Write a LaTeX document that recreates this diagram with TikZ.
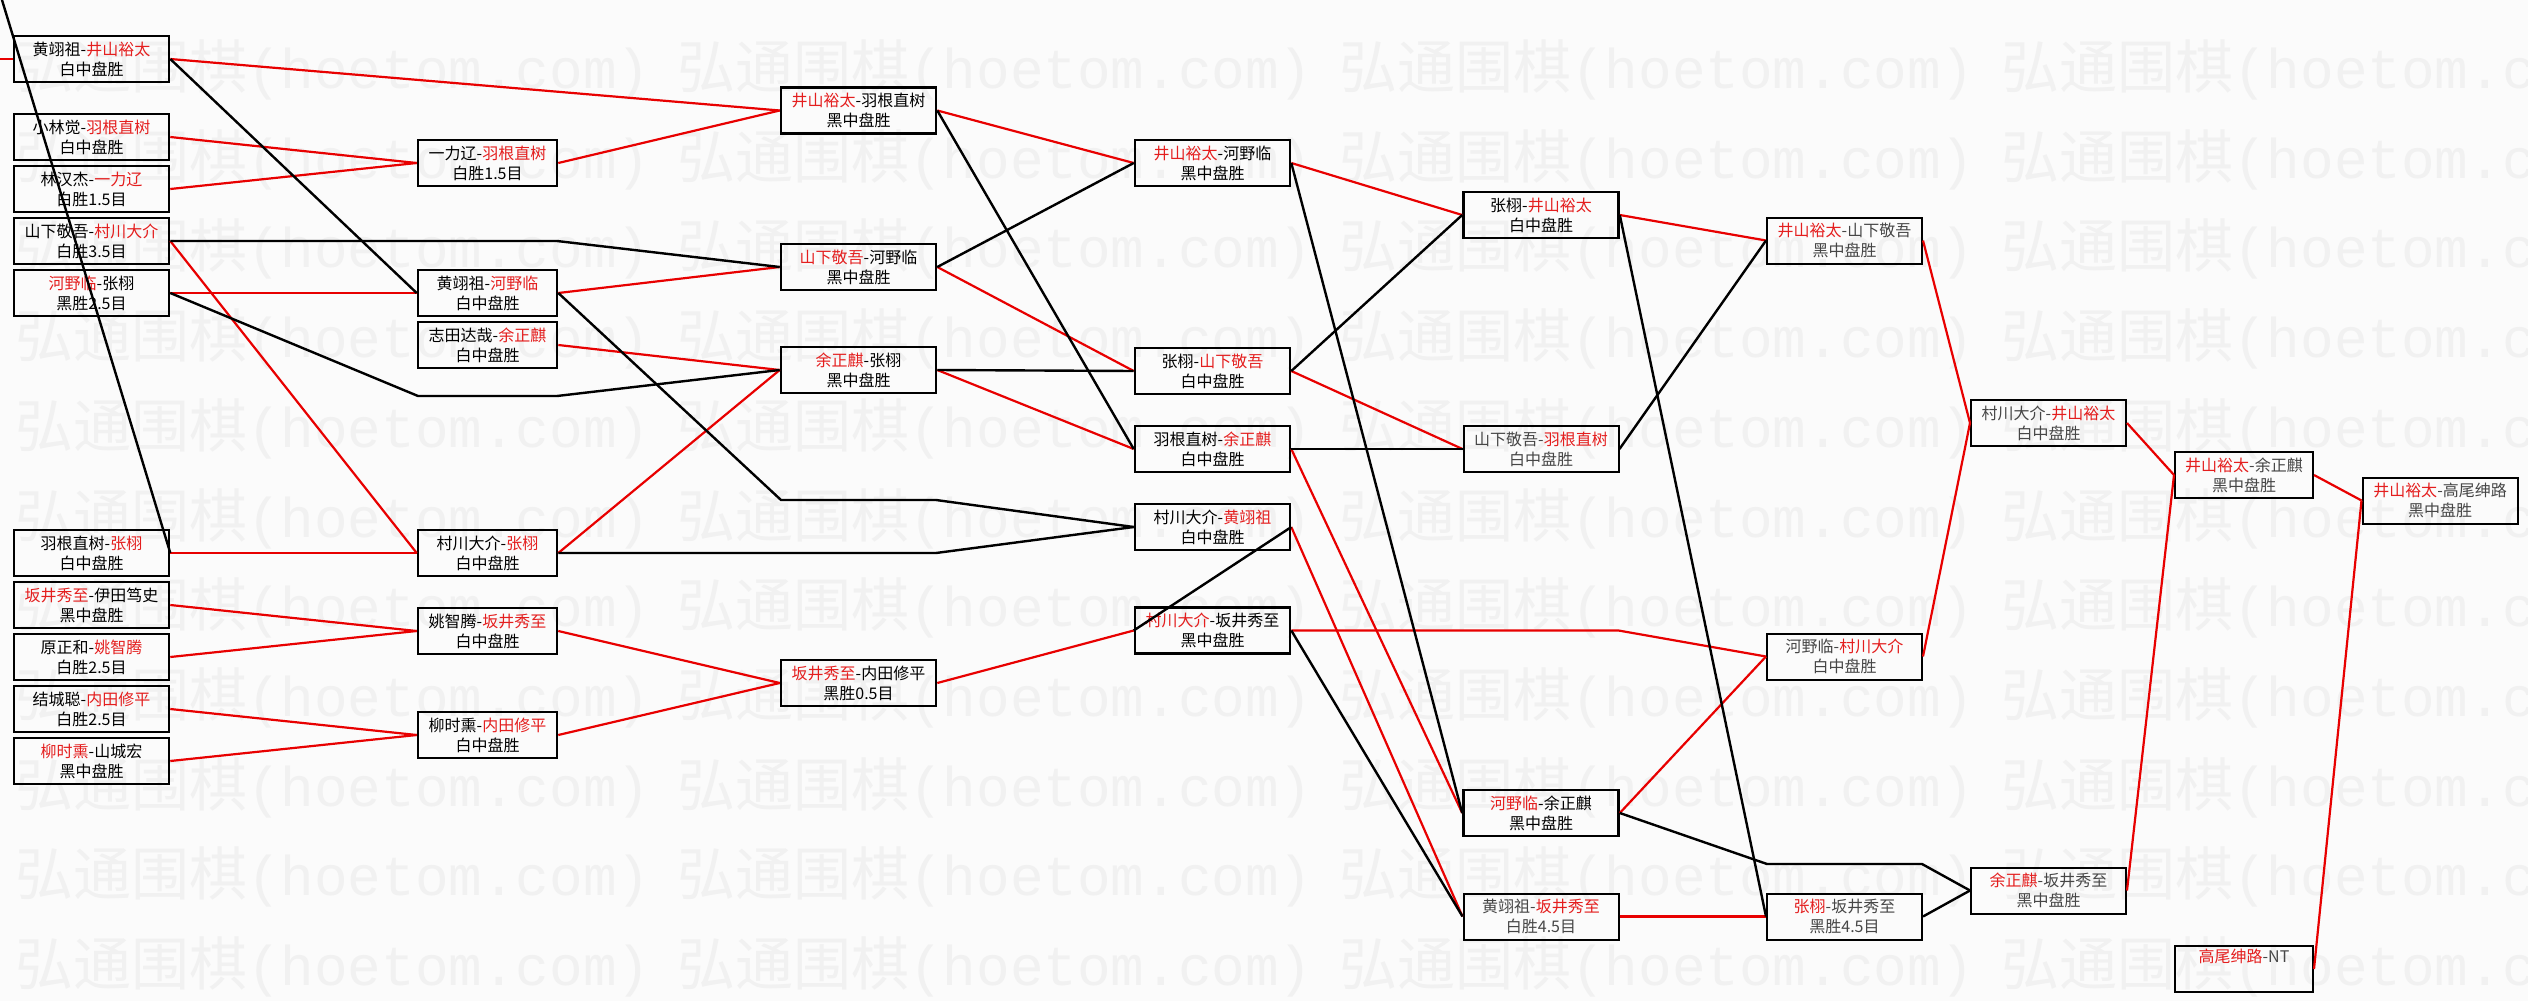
\documentclass[tikz,border=0pt]{standalone}
\usepackage{fontspec}
\setmainfont{Noto Sans CJK SC}
\newfontfamily\wmmono{Liberation Mono}
\definecolor{lred}{RGB}{232,0,0}
\definecolor{tred}{RGB}{228,30,30}
\definecolor{bgc}{RGB}{251,251,251}
\definecolor{wmc}{RGB}{241,241,241}
\definecolor{ltxt}{RGB}{70,70,70}
\newcommand\rn[1]{\textcolor{tred}{#1}}
\tikzset{
 box/.style={draw=black, line width=2.6pt, rectangle, minimum height=46pt, inner sep=0pt, align=center, font=\fontsize{16}{20}\selectfont, text=black},
 lbox/.style={box, line width=2pt, text=ltxt},
 wA/.style={minimum width=155pt},
 wB/.style={minimum width=139pt},
 win/.style={draw=lred, line width=2.2pt},
 lose/.style={draw=black, line width=2.4pt},
 wm/.style={anchor=west, text=wmc, inner sep=0pt, font=\fontsize{58}{58}\selectfont},
}
\begin{document}
\begin{tikzpicture}[x=1pt,y=-1pt]
\fill[bgc] (0,0) rectangle (2528,1001);
\useasboundingbox (0,0) rectangle (2528,1001);
\begin{scope}
\clip (0,0) rectangle (2528,1001);
\foreach \k in {0,...,10}{
  \foreach \j in {0,...,3}{
    \node[wm] (wm-\k-\j) at ({15+662*\j},{70+89.7*\k}) {弘通围棋{\wmmono\fontsize{56}{56}\selectfont (hoetom.com)}};
  }
}
\end{scope}
% column 0
\node[box,wA] (A1) at (91.5,59) {黄翊祖-\rn{井山裕太}\\白中盘胜};
\node[box,wA] (A2) at (91.5,137) {小林觉-\rn{羽根直树}\\白中盘胜};
\node[box,wA] (A3) at (91.5,189) {林汉杰-\rn{一力辽}\\白胜1.5目};
\node[box,wA] (A4) at (91.5,241) {山下敬吾-\rn{村川大介}\\白胜3.5目};
\node[box,wA] (A5) at (91.5,293) {\rn{河野临}-张栩\\黑胜2.5目};
\node[box,wA] (A6) at (91.5,553) {羽根直树-\rn{张栩}\\白中盘胜};
\node[box,wA] (A7) at (91.5,605) {\rn{坂井秀至}-伊田笃史\\黑中盘胜};
\node[box,wA] (A8) at (91.5,657) {原正和-\rn{姚智腾}\\白胜2.5目};
\node[box,wA] (A9) at (91.5,709) {结城聪-\rn{内田修平}\\白胜2.5目};
\node[box,wA] (A10) at (91.5,761) {\rn{柳时熏}-山城宏\\黑中盘胜};
% column 1
\node[box,wB] (B1) at (487.5,163) {一力辽-\rn{羽根直树}\\白胜1.5目};
\node[box,wB] (B2) at (487.5,293) {黄翊祖-\rn{河野临}\\白中盘胜};
\node[box,wB] (B3) at (487.5,345) {志田达哉-\rn{余正麒}\\白中盘胜};
\node[box,wB] (B4) at (487.5,553) {村川大介-\rn{张栩}\\白中盘胜};
\node[box,wB] (B5) at (487.5,631) {姚智腾-\rn{坂井秀至}\\白中盘胜};
\node[box,wB] (B6) at (487.5,735) {柳时熏-\rn{内田修平}\\白中盘胜};
% column 2
\node[box,wA] (C1) at (858.5,110.5) {\rn{井山裕太}-羽根直树\\黑中盘胜};
\node[box,wA] (C2) at (858.5,267) {\rn{山下敬吾}-河野临\\黑中盘胜};
\node[box,wA] (C3) at (858.5,370) {\rn{余正麒}-张栩\\黑中盘胜};
\node[box,wA] (C4) at (858.5,683) {\rn{坂井秀至}-内田修平\\黑胜0.5目};
% column 3
\node[box,wA] (D1) at (1212.5,163) {\rn{井山裕太}-河野临\\黑中盘胜};
\node[box,wA] (D2) at (1212.5,371) {张栩-\rn{山下敬吾}\\白中盘胜};
\node[box,wA] (D3) at (1212.5,449) {羽根直树-\rn{余正麒}\\白中盘胜};
\node[box,wA] (D4) at (1212.5,527) {村川大介-\rn{黄翊祖}\\白中盘胜};
\node[box,wA] (D5) at (1212.5,630.5) {\rn{村川大介}-坂井秀至\\黑中盘胜};
% column 4
\node[box,wA] (E1) at (1541,215) {张栩-\rn{井山裕太}\\白中盘胜};
\node[lbox,wA] (E2) at (1541,449) {山下敬吾-\rn{羽根直树}\\白中盘胜};
\node[box,wA] (E3) at (1541,813) {\rn{河野临}-余正麒\\黑中盘胜};
\node[lbox,wA] (E4) at (1541,916.5) {黄翊祖-\rn{坂井秀至}\\白胜4.5目};
% column 5
\node[lbox,wA] (F1) at (1844.5,240.5) {\rn{井山裕太}-山下敬吾\\黑中盘胜};
\node[lbox,wA] (F2) at (1844.5,656.5) {河野临-\rn{村川大介}\\白中盘胜};
\node[lbox,wA] (F3) at (1844.5,916.5) {\rn{张栩}-坂井秀至\\黑胜4.5目};
% column 6
\node[lbox,wA] (G1) at (2048.5,423) {村川大介-\rn{井山裕太}\\白中盘胜};
\node[lbox,wA] (G2) at (2048.5,890.5) {\rn{余正麒}-坂井秀至\\黑中盘胜};
% column 7
\node[lbox,minimum width=138pt] (H1) at (2244,475) {\rn{井山裕太}-余正麒\\黑中盘胜};
\node[lbox,minimum width=138pt] (H2) at (2244,969) {\rn{高尾绅路}-NT\\\strut};
% column 8
\node[lbox,wA] (I1) at (2440,500.5) {\rn{井山裕太}-高尾绅路\\黑中盘胜};
% free ends and bends
\coordinate (Lin) at (0,59);
\coordinate (Ltop) at (2,0);
\coordinate (pA4) at (557,241);
\coordinate (pA5a) at (418,396);
\coordinate (pA5b) at (557,396);
\coordinate (pB2a) at (781,500);
\coordinate (pB2b) at (936,500);
\coordinate (pB4) at (936,553);
\coordinate (pD5) at (1618.5,630.5);
\coordinate (pE3a) at (1767,864);
\coordinate (pE3b) at (1922,864);
% winners (red)
\draw[win] (Lin) -- (A1.west);
\draw[win] (A1.east) -- (C1.west);
\draw[win] (A2.east) -- (B1.west);
\draw[win] (A3.east) -- (B1.west);
\draw[win] (A4.east) -- (B4.west);
\draw[win] (A5.east) -- (B2.west);
\draw[win] (A6.east) -- (B4.west);
\draw[win] (A7.east) -- (B5.west);
\draw[win] (A8.east) -- (B5.west);
\draw[win] (A9.east) -- (B6.west);
\draw[win] (A10.east) -- (B6.west);
\draw[win] (B1.east) -- (C1.west);
\draw[win] (B2.east) -- (C2.west);
\draw[win] (B3.east) -- (C3.west);
\draw[win] (B4.east) -- (C3.west);
\draw[win] (B5.east) -- (C4.west);
\draw[win] (B6.east) -- (C4.west);
\draw[win] (C1.east) -- (D1.west);
\draw[win] (C2.east) -- (D2.west);
\draw[win] (C3.east) -- (D3.west);
\draw[win] (C4.east) -- (D5.west);
\draw[win] (D1.east) -- (E1.west);
\draw[win] (D2.east) -- (E2.west);
\draw[win] (D3.east) -- (E3.west);
\draw[win] (D4.east) -- (E4.west);
\draw[win] (D5.east) -- (pD5) -- (F2.west);
\draw[win] (E1.east) -- (F1.west);
\draw[win] (E3.east) -- (F2.west);
\draw[win] (E4.east) -- (F3.west);
\draw[win] (F1.east) -- (G1.west);
\draw[win] (F2.east) -- (G1.west);
\draw[win] (G1.east) -- (H1.west);
\draw[win] (G2.east) -- (H1.west);
\draw[win] (H1.east) -- (I1.west);
\draw[win] (H2.east) -- (I1.west);
% losers (black)
\draw[lose] (A6.east) -- (Ltop);
\draw[lose] (A1.east) -- (B2.west);
\draw[lose] (A4.east) -- (pA4) -- (C2.west);
\draw[lose] (A5.east) -- (pA5a) -- (pA5b) -- (C3.west);
\draw[lose] (B2.east) -- (pB2a) -- (pB2b) -- (D4.west);
\draw[lose] (B4.east) -- (pB4) -- (D4.west);
\draw[lose] (C1.east) -- (D3.west);
\draw[lose] (C2.east) -- (D1.west);
\draw[lose] (C3.east) -- (D2.west);
\draw[lose] (D1.east) -- (E3.west);
\draw[lose] (D2.east) -- (E1.west);
\draw[lose] (D3.east) -- (E2.west);
\draw[lose] (D4.east) -- (D5.west);
\draw[lose] (D5.east) -- (E4.west);
\draw[lose] (E1.east) -- (F3.west);
\draw[lose] (E2.east) -- (F1.west);
\draw[lose] (E3.east) -- (pE3a) -- (pE3b) -- (G2.west);
\draw[lose] (F3.east) -- (G2.west);
\end{tikzpicture}
\end{document}
